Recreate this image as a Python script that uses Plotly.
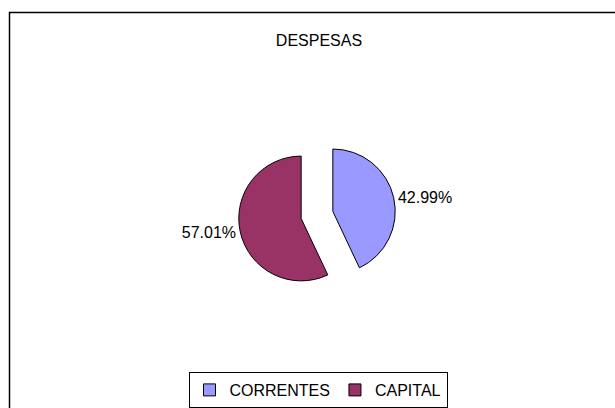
import plotly.graph_objects as go

# data
labels = ["CORRENTES", "CAPITAL"]
values = [42.99, 57.01]
colors = ["#9999FF", "#993366"]

W, H = 615, 408

fig = go.Figure(
    go.Pie(
        labels=labels,
        values=values,
        sort=False,
        direction="clockwise",
        rotation=0,
        pull=[0.26, 0.26],
        marker=dict(colors=colors, line=dict(color="#000000", width=1)),
        texttemplate="%{percent:.2%}",
        textposition="outside",
        textfont=dict(family="Liberation Sans, Arial, sans-serif", size=16, color="#000000"),
        domain=dict(x=[238 / W, 396 / W], y=[1 - 295 / H, 1 - 137 / H]),
        hoverinfo="label+percent",
    )
)

fig.update_layout(
    width=W,
    height=H,
    margin=dict(l=0, r=0, t=0, b=0),
    paper_bgcolor="white",
    plot_bgcolor="white",
    font=dict(family="Liberation Sans, Arial, sans-serif", size=16, color="#000000"),
    title=dict(
        text="DESPESAS",
        x=319 / W,
        xanchor="center",
        y=1 - 40 / H,
        yanchor="middle",
        font=dict(size=16),
    ),
    showlegend=True,
    legend=dict(
        orientation="h",
        x=318 / W,
        xanchor="center",
        y=1 - 374 / H,
        yanchor="top",
        bordercolor="#000000",
        borderwidth=1,
        font=dict(size=16),
        itemwidth=30,
        tracegroupgap=0,
    ),
    # chart area border (runs past the right and bottom edges)
    shapes=[
        dict(
            type="rect",
            xref="paper",
            yref="paper",
            x0=9.5 / W,
            x1=1.05,
            y0=-0.05,
            y1=1 - 12.5 / H,
            line=dict(color="#000000", width=1.5),
        )
    ],
)

# drop the default page margin so the figure sits at the window corner
fig.write_html(
    "out.html",
    config={"displayModeBar": False},
    post_script="document.body.style.margin='0';",
)
